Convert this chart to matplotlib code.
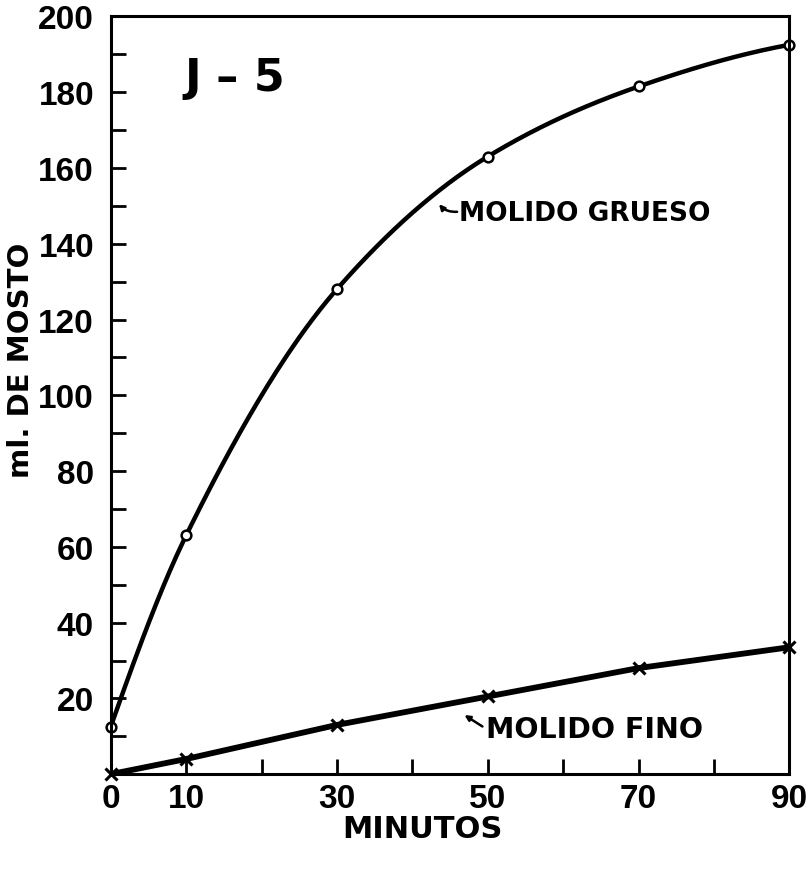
import matplotlib.pyplot as plt
import numpy as np

# data
minutos = [0, 10, 30, 50, 70, 90]
grueso = [12.5, 63, 128, 163, 181.5, 192.5]
fino = [0, 4, 13, 20.5, 28, 33.5]

x_labels = ['0', '10', '', '30', '', '50', '', '70', '', '90']
y_labels = ['20', '40', '60', '80', '100', '120', '140', '160', '180', '200']


def pchip(x, y, n=300):
    # monotone cubic (Fritsch-Carlson), only to draw a smooth line through the points
    x = np.asarray(x, float)
    y = np.asarray(y, float)
    h = np.diff(x)
    d = np.diff(y) / h
    m = np.zeros_like(y)
    for i in range(1, len(x) - 1):
        if d[i - 1] * d[i] > 0:
            w1 = 2 * h[i] + h[i - 1]
            w2 = h[i] + 2 * h[i - 1]
            m[i] = (w1 + w2) / (w1 / d[i - 1] + w2 / d[i])
    m[0] = ((2 * h[0] + h[1]) * d[0] - h[0] * d[1]) / (h[0] + h[1])
    m[-1] = ((2 * h[-1] + h[-2]) * d[-1] - h[-1] * d[-2]) / (h[-1] + h[-2])
    xs = np.linspace(x[0], x[-1], n)
    idx = np.clip(np.searchsorted(x, xs) - 1, 0, len(x) - 2)
    t = (xs - x[idx]) / h[idx]
    h00 = 2 * t ** 3 - 3 * t ** 2 + 1
    h10 = t ** 3 - 2 * t ** 2 + t
    h01 = -2 * t ** 3 + 3 * t ** 2
    h11 = t ** 3 - t ** 2
    ys = h00 * y[idx] + h10 * h[idx] * m[idx] + h01 * y[idx + 1] + h11 * h[idx] * m[idx + 1]
    return xs, ys


plt.rcParams['font.family'] = ['DejaVu Sans']

fig = plt.figure(figsize=(8.08, 8.70), dpi=100)
ax = fig.add_axes([0.137, 0.109, 0.840, 0.871])

gx, gy = pchip(minutos, grueso)
ax.plot(gx, gy, color='black', lw=3.2, solid_capstyle='round')
ax.plot(minutos, grueso, 'o', ms=7, mfc='white', mec='black', mew=1.8, clip_on=False)

ax.plot(minutos, fino, color='black', lw=4.2, solid_capstyle='round')
ax.plot(minutos, fino, 'x', ms=8, color='black', mew=2.2, clip_on=False)

ax.set_xlim(0, 90)
ax.set_ylim(0, 200)

ax.set_xticks(range(0, 91, 10))
ax.set_xticklabels(x_labels)
ax.set_yticks(range(20, 201, 20))
ax.set_yticklabels(y_labels)
ax.set_yticks(range(10, 200, 20), minor=True)

ax.tick_params(axis='both', direction='in', length=11, width=2, labelsize=24)
ax.tick_params(axis='y', which='minor', direction='in', length=11, width=2)
ax.tick_params(axis='y', pad=12)
ax.tick_params(axis='x', pad=6)
for lab in ax.get_xticklabels() + ax.get_yticklabels():
    lab.set_family('Liberation Sans')
    lab.set_fontweight('bold')

for s in ax.spines.values():
    s.set_linewidth(2.2)

ax.set_xlabel('MINUTOS', fontsize=22, fontweight='bold')
ax.xaxis.set_label_coords(0.459, -0.053)
ax.set_ylabel('ml. DE MOSTO', fontsize=21, fontweight='bold')
ax.yaxis.set_label_coords(-0.112, 0.547)

ax.text(9.8, 184, 'J \u2013 5', fontsize=32, fontweight='bold', va='center')

ax.text(46.2, 148, 'MOLIDO GRUESO', fontsize=19, fontweight='bold', va='center')
ax.annotate('', xy=(43.3, 151), xytext=(46.3, 148.5),
            arrowprops=dict(arrowstyle='-|>', color='black', lw=1.8,
                            connectionstyle='arc3,rad=-0.3', mutation_scale=8))

ax.text(49.8, 11.9, 'MOLIDO FINO', fontsize=20.5, fontweight='bold', va='center')
ax.annotate('', xy=(46.6, 16), xytext=(49.6, 12.2),
            arrowprops=dict(arrowstyle='-|>', color='black', lw=1.8, mutation_scale=8))

fig.savefig('out.png', dpi=100)
